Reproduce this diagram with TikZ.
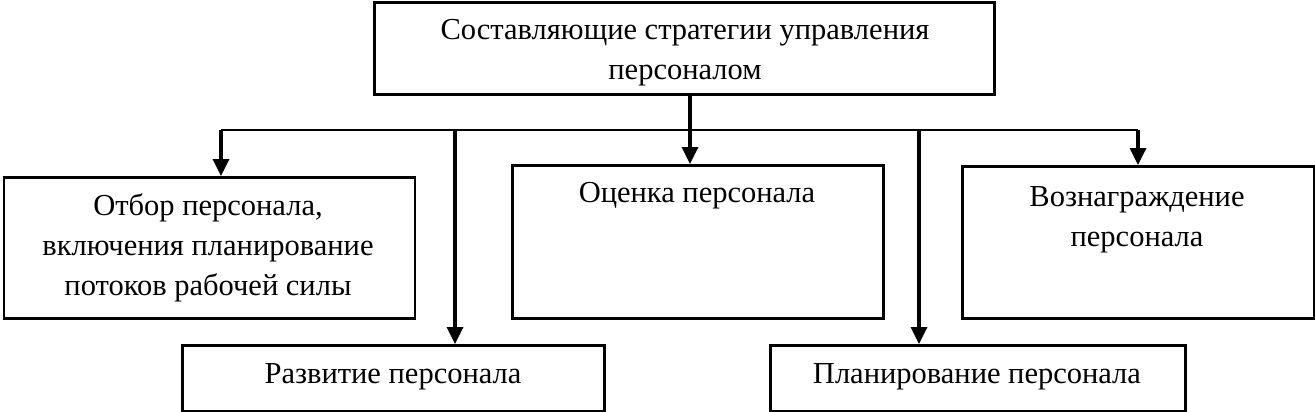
\documentclass[tikz,border=0pt]{standalone}
\usepackage{fontspec}
\setmainfont{Liberation Serif}
\usetikzlibrary{arrows.meta}
\begin{document}
\begin{tikzpicture}[x=1pt,y=-1pt,
  boxnode/.style={draw,line width=2.6pt,inner sep=0pt,anchor=north west},
  txt/.style={font=\fontsize{30.5}{40}\selectfont,align=center,inner sep=0pt},
  conn/.style={line width=2.6pt},
  arr/.style={line width=3.4pt,-{Triangle[length=17pt,width=16pt]}}]
\useasboundingbox (0,0) rectangle (1315,412);
% boxes
\node[boxnode,minimum width=620pt,minimum height=92pt] (top) at (373,1.5) {};
\node[boxnode,minimum width=411pt,minimum height=141pt] (otbor) at (2.5,176) {};
\node[boxnode,minimum width=371pt,minimum height=153pt] (ocenka) at (511,164) {};
\node[boxnode,minimum width=352pt,minimum height=152pt] (vozn) at (961,165) {};
\node[boxnode,minimum width=422pt,minimum height=66pt] (razv) at (181,344) {};
\node[boxnode,minimum width=415pt,minimum height=66pt] (plan) at (769,344) {};
% texts
\node[txt] (ttop) at (685,53) {Составляющие стратегии управления\\персоналом};
\node[txt] (totbor) at (208,248) {Отбор персонала,\\включения планирование\\потоков рабочей силы};
\node[txt] (tocenka) at (697,196) {Оценка персонала};
\node[txt] (tvozn) at (1137,220) {Вознаграждение\\персонала};
\node[txt] (trazv) at (393,377) {Развитие персонала};
\node[txt] (tplan) at (977,377) {Планирование персонала};
% connectors
\coordinate (bl) at (221,130);
\coordinate (br) at (1138,130);
\coordinate (b1) at (455,130);
\coordinate (b2) at (919,130);
\coordinate (bm) at (690,130);
\draw[conn] (bl) -- (br);
\draw[arr] (bm |- top.south) -- (bm |- ocenka.north);
\draw[arr] (bl) -- (bl |- otbor.north);
\draw[arr] (br) -- (br |- vozn.north);
\draw[arr] (b1) -- (b1 |- razv.north);
\draw[arr] (b2) -- (b2 |- plan.north);
\end{tikzpicture}
\end{document}
